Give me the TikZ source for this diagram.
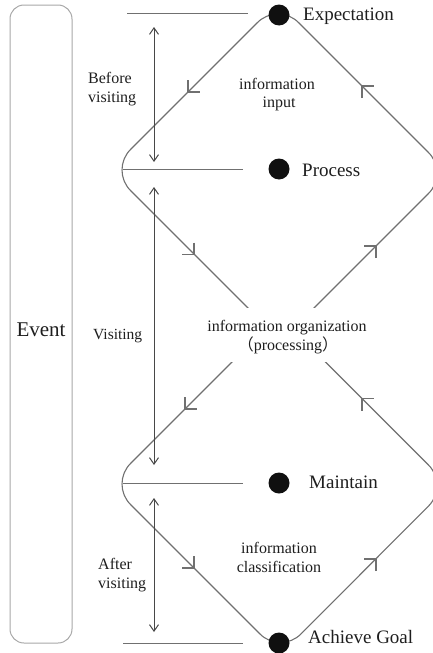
\documentclass[tikz,border=0pt]{standalone}
\usepackage{fontspec}
\setmainfont{Liberation Serif}
\newfontfamily\cjkfont{Noto Sans CJK SC}
\usetikzlibrary{arrows.meta,calc}
\definecolor{linegray}{HTML}{707070}
\definecolor{boxgray}{HTML}{A8A8A8}
\definecolor{arrowgray}{HTML}{484848}
\definecolor{textdark}{HTML}{1E1E1E}
\definecolor{dotblack}{HTML}{101010}
\begin{document}
\begin{tikzpicture}[x=1pt,y=-1pt,
  vtip/.tip={Straight Barb[length=6.5pt,width=9pt]},
  loopline/.style={draw=linegray, line width=1.1pt, rounded corners=29pt},
  chevron/.style={draw=linegray, line width=1.1pt, line join=miter},
  eventbox/.style={draw=boxgray, line width=1pt, rounded corners=14pt},
  hline/.style={draw=linegray, line width=1pt},
  varrow/.style={draw=arrowgray, line width=1pt, {vtip}-{vtip}},
  dot/.style={circle, fill=dotblack, minimum size=21pt, inner sep=0pt},
  biglabel/.style={text=textdark, inner sep=0pt, font=\fontsize{19}{22}\selectfont},
  smalllabel/.style={text=textdark, inner sep=0pt, font=\fontsize{16}{19}\selectfont},
  eventlabel/.style={text=textdark, inner sep=0pt, font=\fontsize{21}{24}\selectfont},
  mask/.style={fill=white, inner sep=0pt, minimum width=164pt, minimum height=54pt}
]
\useasboundingbox (0,0) rectangle (433,653);
\clip (0,0) rectangle (433,653);

% Event column
\draw[eventbox] (10,5) rectangle (72,643);
\node[eventlabel, anchor=base] (event) at (41,336) {Event};

% upper diamond: Expectation -> left -> centre -> right -> Expectation
\coordinate (uT) at (278,2);
\coordinate (uL) at (110,170);
\coordinate (uB) at (281,341);
\coordinate (uR) at (449,173);
\draw[loopline] ($(uT)!0.5!(uL)$) -- (uL) -- (uB) -- (uR) -- (uT) -- cycle;

% lower diamond: centre -> left -> Achieve Goal -> right -> centre
\coordinate (lT) at (278.75,315.25);
\coordinate (lL) at (110,484);
\coordinate (lB) at (280.5,654.5);
\coordinate (lR) at (449,485.5);
\draw[loopline] ($(lT)!0.5!(lL)$) -- (lL) -- (lB) -- (lR) -- (lT) -- cycle;

% direction chevrons (tips)
\coordinate (a1) at (188,92);      % down-left
\coordinate (a2) at (362,86);      % up-left
\coordinate (a3) at (194,254.5);   % down-right
\coordinate (a4) at (376,246);     % up-right
\coordinate (a5) at (185,409);     % down-left
\coordinate (a6) at (362,398.5);   % up-left
\coordinate (a7) at (194,568);     % down-right
\coordinate (a8) at (376,559);     % up-right
\draw[chevron] ($(a1)+(0,-12)$) -- (a1) -- ($(a1)+(12,0)$);
\draw[chevron] ($(a2)+(0,12)$) -- (a2) -- ($(a2)+(12,0)$);
\draw[chevron] ($(a3)+(0,-12)$) -- (a3) -- ($(a3)+(-12,0)$);
\draw[chevron] ($(a4)+(0,12)$) -- (a4) -- ($(a4)+(-12,0)$);
\draw[chevron] ($(a5)+(0,-12)$) -- (a5) -- ($(a5)+(12,0)$);
\draw[chevron] ($(a6)+(0,12)$) -- (a6) -- ($(a6)+(12,0)$);
\draw[chevron] ($(a7)+(0,-12)$) -- (a7) -- ($(a7)+(-12,0)$);
\draw[chevron] ($(a8)+(0,12)$) -- (a8) -- ($(a8)+(-12,0)$);

% centre text with white mask
\node[mask] (centre) at (287,335) {};
\node[smalllabel, anchor=base] (org1) at (287,331) {information organization};
\node[smalllabel, anchor=base] (org2) at (288,350) {{\cjkfont （}processing{\cjkfont ）}};

% horizontal phase lines
\coordinate (h1a) at (127,13);  \coordinate (h1b) at (248,13);
\coordinate (h2a) at (123,169); \coordinate (h2b) at (243,169);
\coordinate (h3a) at (123,483); \coordinate (h3b) at (243,483);
\coordinate (h4a) at (123,643); \coordinate (h4b) at (243,643);
\draw[hline] (h1a) -- (h1b);
\draw[hline] (h2a) -- (h2b);
\draw[hline] (h3a) -- (h3b);
\draw[hline] (h4a) -- (h4b);

% vertical double arrows
\coordinate (v1a) at (154,27);  \coordinate (v1b) at (154,162);
\coordinate (v2a) at (154,187); \coordinate (v2b) at (154,465);
\coordinate (v3a) at (154,498); \coordinate (v3b) at (154,632);
\draw[varrow] (v1a) -- (v1b);
\draw[varrow] (v2a) -- (v2b);
\draw[varrow] (v3a) -- (v3b);

% phase labels
\node[smalllabel, anchor=base west] (bef1) at (88,83) {Before};
\node[smalllabel, anchor=base west] (bef2) at (88,102) {visiting};
\node[smalllabel, anchor=base west, font=\fontsize{15.5}{18}\selectfont] (vis) at (93,339) {Visiting};
\node[smalllabel, anchor=base west] (aft1) at (98,569) {After};
\node[smalllabel, anchor=base west] (aft2) at (98,588) {visiting};

% inner labels
\node[smalllabel, anchor=base] (inp1) at (277,89) {information};
\node[smalllabel, anchor=base] (inp2) at (279,107) {input};
\node[smalllabel, anchor=base] (cls1) at (279,553) {information};
\node[smalllabel, anchor=base] (cls2) at (279,572) {classification};

% dots and state labels
\node[dot] (expdot) at (279,15) {};
\node[dot] (procdot) at (279,169) {};
\node[dot] (maindot) at (279,483) {};
\node[dot] (goaldot) at (279,643) {};
\node[biglabel, anchor=base west] (exp) at (303,20) {Expectation};
\node[biglabel, anchor=base west] (proc) at (302,176) {Process};
\node[biglabel, anchor=base west] (main) at (309,488) {Maintain};
\node[biglabel, anchor=base west] (goal) at (308,643) {Achieve Goal};
\end{tikzpicture}
\end{document}
